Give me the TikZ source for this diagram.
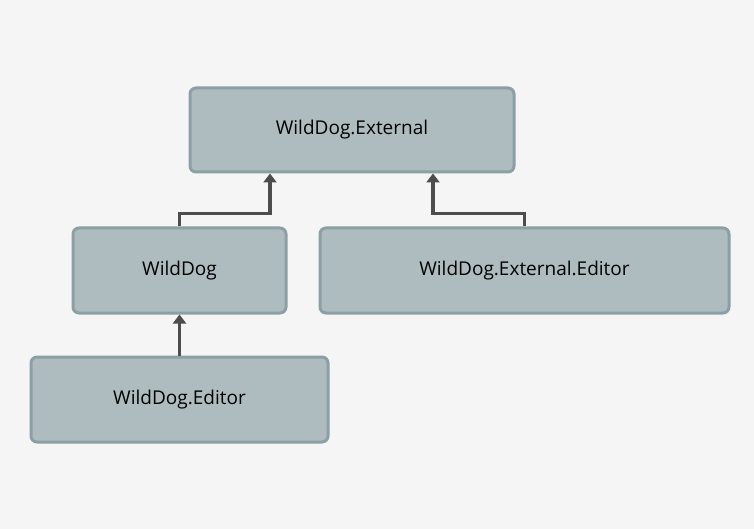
\documentclass[tikz,border=0pt]{standalone}
\usepackage{fontspec}
\setmainfont{Open Sans}
\usetikzlibrary{arrows.meta}
\definecolor{bg}{HTML}{F5F5F5}
\definecolor{boxfill}{HTML}{AEBCC0}
\definecolor{boxline}{HTML}{8C9FA5}
\definecolor{arr}{HTML}{4D4D4D}
\tikzset{
  pkg/.style={draw=boxline, fill=boxfill, line width=3pt, rounded corners=6pt, inner sep=0pt, font=\fontsize{19}{22}\selectfont},
  dep/.style={draw=arr, line width=3.5pt, -{Triangle[length=9pt,width=13pt]}}
}
\begin{document}
\begin{tikzpicture}[x=1pt,y=-1pt]
\fill[bg] (0,0) rectangle (754,529);
\useasboundingbox (0,0) rectangle (754,529);
\node[pkg, minimum width=324pt, minimum height=84pt] (ext) at (352,130) {WildDog.External};
\node[pkg, minimum width=213pt, minimum height=85pt] (wd) at (179.5,270.5) {WildDog};
\node[pkg, minimum width=409pt, minimum height=85pt] (exted) at (524.5,270.5) {WildDog.External.Editor};
\node[pkg, minimum width=297pt, minimum height=85pt] (ed) at (179.5,399.5) {WildDog.Editor};
\coordinate (a1) at (270,0);
\coordinate (a2) at (433,0);
\draw[dep] (wd.north) -- ++(0,-13) -| (a1 |- ext.south);
\draw[dep] (exted.north) ++(0,0) -- ++(0,-13) -| (a2 |- ext.south);
\draw[dep] (ed.north) -- (wd.south);
\end{tikzpicture}
\end{document}
